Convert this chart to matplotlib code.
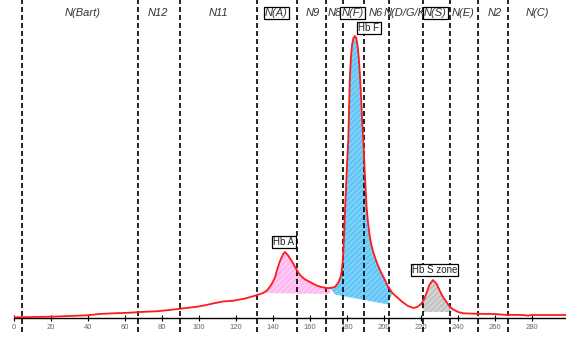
import numpy as np
import matplotlib
matplotlib.use('Agg')
import matplotlib.pyplot as plt

plt.rcParams['font.family'] = ['Liberation Sans', 'DejaVu Sans']
plt.rcParams['hatch.linewidth'] = 0.6

# 电泳曲线 (迁移位置, 信号强度)
pos = [0, 10, 20, 30, 40, 46, 55, 63, 68, 77, 84, 90, 99, 104, 108, 113, 118.5, 125, 131,
       134.7, 137, 139, 141, 142.5, 144, 145.5, 146.5, 148, 150.8, 152.5, 154.6, 157, 160,
       163, 166, 169, 171, 173.5, 175.5, 176.5, 177, 177.6, 178, 178.5, 179, 179.6, 180.2,
       180.7, 181.2, 181.6, 182.2, 182.8, 183.5, 184.3, 185, 185.7, 186.4, 187, 187.6, 188.2,
       188.8, 189.7, 190.6, 191.4, 192.3, 193.2, 194.2, 196, 197.8, 200, 202, 204.5, 206.9,
       210, 213, 216, 218, 220, 221.5, 223, 224.5, 226.5, 228.5, 230.5, 231.9, 233.8,
       235.7, 238, 240, 243, 250, 260, 265, 275, 278, 280, 290, 298.4]
signal = [0.7, 1.0, 1.3, 2.0, 2.7, 4.0, 4.8, 5.3, 6.0, 6.7, 8.0, 9.3, 11.3, 13, 14.7, 16.5, 17.3,
          19.5, 22.7, 25, 28, 33, 40, 50, 58, 64, 66, 63, 55, 49, 43, 39, 36, 33, 31, 30, 30,
          31, 36, 41, 45, 55, 65, 86, 111, 135, 160, 178, 215, 243, 262, 274, 280, 282, 280,
          273, 260, 243, 222, 198, 178, 143, 111, 95, 82, 73, 66, 56, 48, 40, 32, 25, 21,
          16, 12, 10, 11, 14, 18, 25, 33, 38, 34, 26, 21, 16, 11, 8, 6,
          4.7, 4.2, 4, 3.2, 3, 2.4, 3, 3, 3]

# 区带分界线
zone_edges = [4.3, 67, 89.7, 131.4, 153, 168.6, 177.8, 189.2, 202.7, 221, 235.7, 250.8, 267]
zone_names = ['N(Bart)', 'N12', 'N11', 'N(A)', 'N9', 'N8', 'N(F)', 'N6', 'N(D/G/K)',
              'N(S)', 'N(E)', 'N2', 'N(C)']
zone_pos = [37, 77.6, 110.5, 141.9, 161.6, 173.2, 183.2, 195.7, 212, 227.8, 242.7, 260, 283]
boxed = ['N(A)', 'N(F)', 'N(S)']

# 峰面积基线
base_x = [134, 172, 204]
base_y = [25, 24, 13]

peak_names = ['Hb A', 'Hb F', 'Hb S zone']
peak_label_pos = [(145.9, 76), (191.9, 290), (227.3, 48)]

x = np.array(pos)
y = np.array(signal)
base = np.interp(x, base_x, base_y)

fig = plt.figure(figsize=(5.66, 3.45), dpi=100)
ax = fig.add_axes([14 / 566, 13 / 345, 552 / 566, 332 / 345])
ax.set_xlim(0, 298.4)
ax.set_ylim(-14, 318)

# 填充
ax.fill_between(x, y, base, where=(x >= 134) & (x <= 172), interpolate=True,
                facecolor='#ffb8f2', edgecolor=(1, 1, 1, 0.55), hatch='//////', linewidth=0, zorder=2)
ax.fill_between(x, y, base, where=(x >= 172) & (x <= 204), interpolate=True,
                facecolor='#62c6f7', edgecolor=(1, 1, 1, 0.4), hatch='//////', linewidth=0, zorder=2)
ax.fill_between(x, y, 6, where=(x >= 221) & (x <= 235.7), interpolate=True,
                facecolor='#c4c4c4', edgecolor=(1, 1, 1, 0.6), hatch='//////', linewidth=0, zorder=2)

ax.plot(x, y, color='#ff1a1a', lw=1.3, zorder=4)

for e in zone_edges:
    ax.axvline(e, color='black', ls=(0, (3, 1.8)), lw=1.2, zorder=3)

for name, p in zip(zone_names, zone_pos):
    if name in boxed:
        ax.text(p, 305, name, ha='center', va='center', fontsize=8, style='italic', color='#333333',
                zorder=6, bbox=dict(boxstyle='square,pad=0.12', fc='white', ec='black', lw=0.9))
    else:
        ax.text(p, 305, name, ha='center', va='center', fontsize=8, style='italic', color='#333333',
                zorder=5)

for name, (px, py) in zip(peak_names, peak_label_pos):
    ax.text(px, py, name, ha='center', va='center', fontsize=7, color='#222222', zorder=6,
            bbox=dict(boxstyle='square,pad=0.12', fc='white', ec='black', lw=0.9))

for s in ['left', 'right', 'top']:
    ax.spines[s].set_visible(False)
ax.spines['bottom'].set_position(('data', 0))
ax.spines['bottom'].set_linewidth(1.0)
ax.set_yticks([])
ax.set_xticks(range(0, 300, 20))
ax.tick_params(axis='x', direction='inout', length=5, width=0.8, labelsize=5.5,
               labelcolor='#666666', pad=2)

fig.savefig('out.png', dpi=100)
